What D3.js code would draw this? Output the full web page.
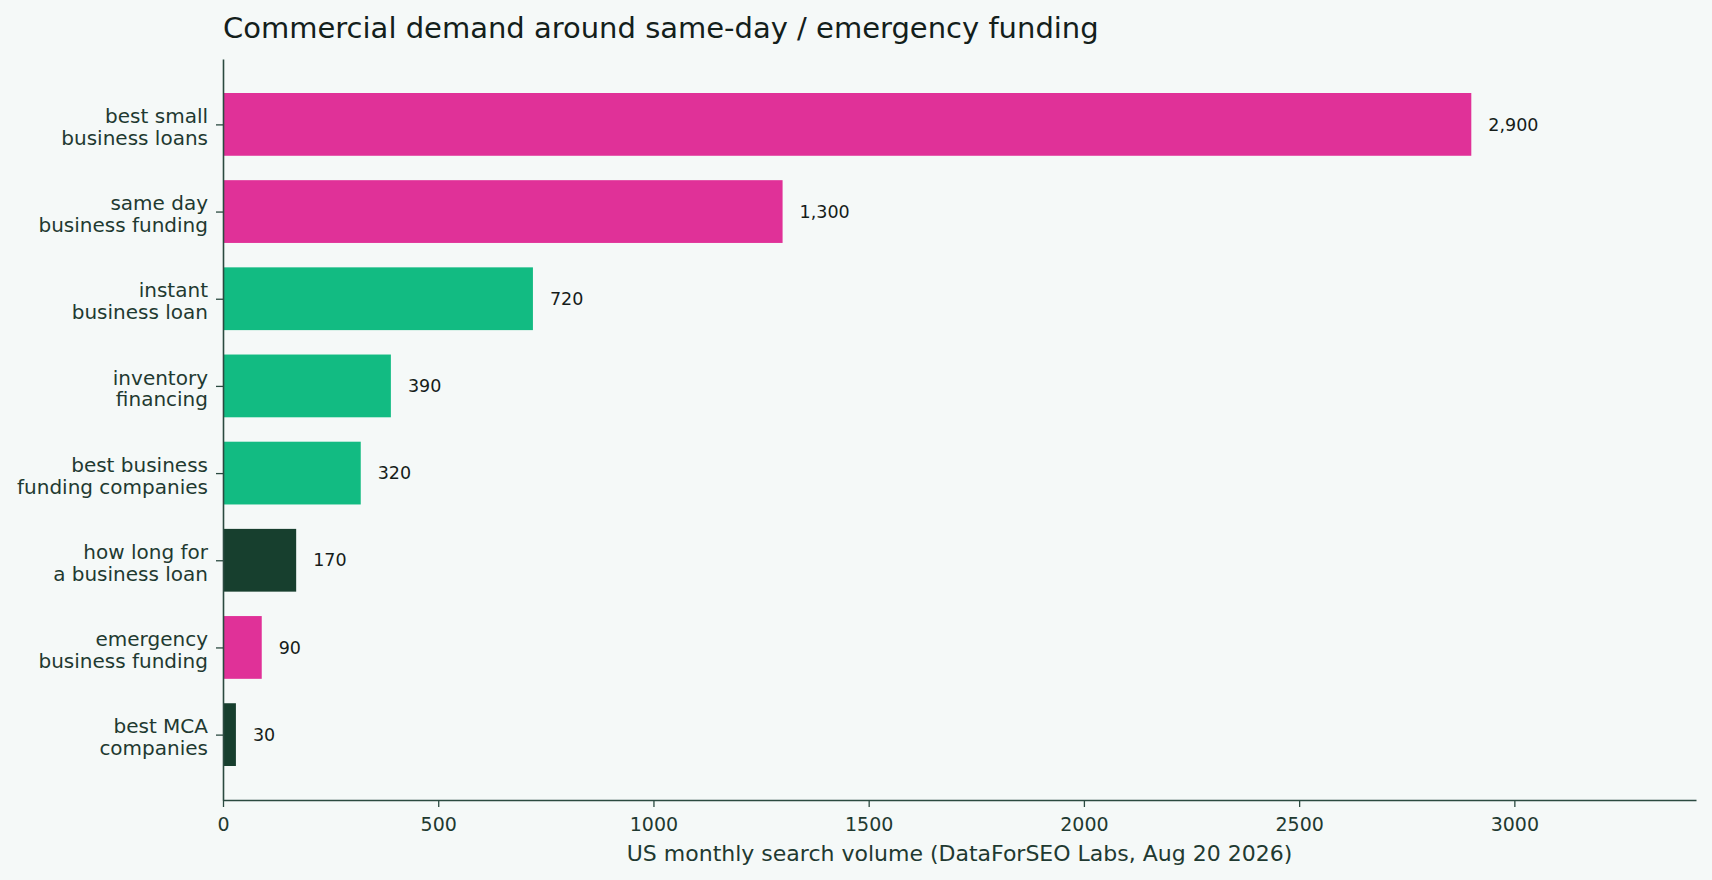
<!DOCTYPE html>
<html>
<head>
<meta charset="utf-8">
<script src="https://cdn.jsdelivr.net/npm/d3@7"></script>
<style>
  html, body { margin: 0; padding: 0; background: #f5f9f8; }
  svg { display: block; font-family: "DejaVu Sans", sans-serif; }
</style>
</head>
<body>
<svg id="chart"></svg>
<script>
// keywords, top to bottom
const keywords = [
  "best small\nbusiness loans",
  "same day\nbusiness funding",
  "instant\nbusiness loan",
  "inventory\nfinancing",
  "best business\nfunding companies",
  "how long for\na business loan",
  "emergency\nbusiness funding",
  "best MCA\ncompanies"
];
const volumes = [2900, 1300, 720, 390, 320, 170, 90, 30];
const groups = ["pink", "pink", "green", "green", "green", "dark", "pink", "dark"];
const xTicks = [0, 500, 1000, 1500, 2000, 2500, 3000];

const colors = { pink: "#e03198", green: "#12bb82", dark: "#173f2e" };

const size = { width: 1712, height: 880 };
const margin = { top: 59, right: 16, bottom: 80, left: 223 };
const width = size.width - margin.left - margin.right;
const height = size.height - margin.top - margin.bottom;

const svg = d3.select("#chart")
  .attr("width", size.width)
  .attr("height", size.height);

svg.append("text")
  .attr("x", margin.left)
  .attr("y", 38)
  .attr("font-size", 29)
  .attr("fill", "#13201b")
  .text("Commercial demand around same-day / emergency funding");

const g = svg.append("g")
  .attr("transform", "translate(" + margin.left + "," + margin.top + ")");

const x = d3.scaleLinear()
  .domain([0, d3.max(volumes) * 1.18])
  .range([0, width]);

const y = d3.scalePoint()
  .domain(d3.range(keywords.length))
  .range([0, height])
  .padding(0.75);

const barH = y.step() * 0.72;

// bars
g.selectAll("rect.bar")
  .data(volumes)
  .join("rect")
  .attr("class", "bar")
  .attr("x", 0)
  .attr("y", (d, i) => y(i) - barH / 2)
  .attr("width", d => x(d))
  .attr("height", barH)
  .attr("fill", (d, i) => colors[groups[i]]);

// value labels
g.selectAll("text.val")
  .data(volumes)
  .join("text")
  .attr("class", "val")
  .attr("x", d => x(d) + 17)
  .attr("y", (d, i) => y(i))
  .attr("dy", "0.35em")
  .attr("font-size", 17.5)
  .attr("fill", "#161d1a")
  .text(d => d3.format(",")(d));

// x axis
const xAxis = g.append("g")
  .attr("transform", "translate(0," + height + ")")
  .call(d3.axisBottom(x).tickValues(xTicks).tickFormat(d3.format("d"))
    .tickSize(7).tickSizeOuter(0).tickPadding(11));

// y axis
const yAxis = g.append("g")
  .call(d3.axisLeft(y).tickSize(7).tickSizeOuter(0).tickPadding(8).tickFormat(() => ""));

[xAxis, yAxis].forEach(a => {
  a.select(".domain").attr("stroke", "#2b4a40").attr("stroke-width", 1.6);
  a.selectAll(".tick line").attr("stroke", "#2b4a40").attr("stroke-width", 1.3);
  a.selectAll("text").attr("fill", "#1f3a31").attr("font-family", "DejaVu Sans, sans-serif");
});
xAxis.selectAll("text").attr("font-size", 19);
yAxis.selectAll("text").attr("font-size", 20);

// two-line keyword labels
yAxis.selectAll(".tick text")
  .each(function(i) {
    const lines = keywords[i].split("\n");
    const t = d3.select(this).attr("dy", null).attr("y", 0);
    lines.forEach((ln, k) => {
      t.append("tspan")
        .attr("x", -15)
        .attr("dy", k === 0 ? "-0.09em" : "1.09em")
        .text(ln);
    });
  });

g.append("text")
  .attr("x", width / 2)
  .attr("y", height + 61)
  .attr("text-anchor", "middle")
  .attr("font-size", 22)
  .attr("fill", "#1f3a31")
  .text("US monthly search volume (DataForSEO Labs, Aug 20 2026)");
</script>
</body>
</html>
